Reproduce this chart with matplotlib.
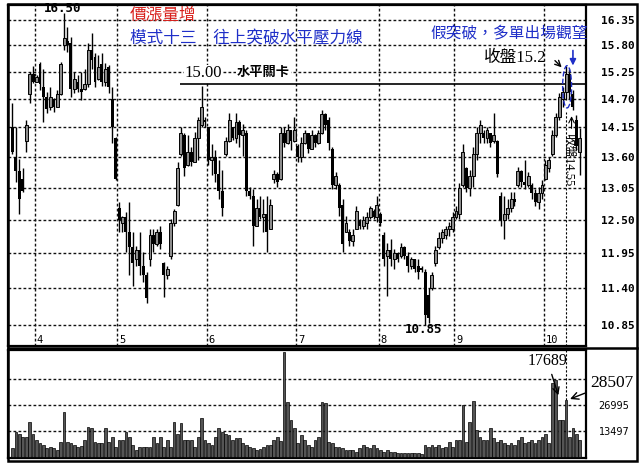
import numpy as np
import matplotlib
matplotlib.use("Agg")
import matplotlib.pyplot as plt
from matplotlib.patches import Ellipse, Rectangle
from matplotlib.ticker import NullLocator, NullFormatter

plt.rcParams['font.family'] = ['DejaVu Sans', 'Noto Sans CJK TC']

# daily bars (open, high, low, close)
opens = [14.16, 13.60, 13.35, 13.20, 13.90, 14.80, 15.20, 15.05, 15.40, 14.95,
         14.75, 14.55, 14.70, 14.55, 14.80, 15.80, 15.90, 15.85, 14.90, 15.05,
         14.90, 14.90, 15.00, 15.70, 15.55, 15.10, 15.40, 15.05, 15.35, 14.70,
         13.95, 12.70, 12.45, 12.55, 12.30, 12.05, 11.85, 12.00, 11.75, 11.60,
         11.85, 12.25, 12.10, 12.30, 11.80, 11.60, 11.90, 12.45, 12.75, 13.65,
         14.00, 13.45, 13.70, 13.50, 13.95, 14.20, 14.30, 14.15, 13.55, 13.60,
         13.30, 13.00, 13.65, 13.90, 14.15, 13.95, 14.25, 14.00, 14.05, 13.00,
         12.90, 12.40, 12.70, 12.55, 12.60, 12.35, 13.20, 13.30, 13.20, 14.05,
         13.85, 14.10, 13.90, 13.80, 13.60, 13.85, 14.05, 13.75, 14.00, 13.85,
         14.05, 14.40, 14.30, 13.75, 13.10, 13.10, 12.75, 12.30, 12.30, 12.15,
         12.35, 12.50, 12.40, 12.45, 12.55, 12.65, 12.55, 12.60, 12.25, 11.90,
         12.00, 11.85, 11.95, 11.90, 12.05, 11.90, 11.75, 11.85, 11.75, 11.72,
         11.65, 11.30, 11.40, 11.80, 12.05, 12.20, 12.25, 12.35, 12.35, 12.55,
         12.60, 13.10, 13.40, 13.05, 13.25, 13.65, 14.05, 14.05, 13.95, 14.05,
         13.90, 13.90, 12.90, 12.50, 12.60, 12.70, 12.85, 13.10, 13.35, 13.15,
         13.10, 13.10, 12.95, 12.80, 12.95, 13.20, 13.40, 13.65, 14.00, 14.35,
         14.70, 14.85, 15.20, 14.80, 14.30, 13.70]
highs = [14.62, 14.16, 13.57, 13.40, 14.29, 15.25, 15.36, 15.19, 15.46, 15.30,
         14.84, 14.94, 14.72, 14.88, 15.46, 16.50, 16.20, 15.98, 15.25, 15.19,
         15.25, 15.30, 15.85, 16.06, 15.64, 15.60, 15.64, 15.43, 15.38, 14.94,
         13.97, 12.80, 12.56, 12.63, 12.80, 12.29, 12.07, 12.29, 11.97, 11.66,
         12.34, 12.34, 12.34, 12.40, 11.81, 11.75, 12.51, 12.68, 13.50, 14.16,
         14.05, 14.01, 13.78, 14.06, 14.35, 14.96, 14.35, 14.16, 13.84, 13.73,
         13.55, 13.37, 13.97, 14.43, 14.16, 14.43, 14.29, 14.22, 14.10, 13.07,
         13.02, 12.85, 12.90, 12.85, 12.90, 12.85, 13.37, 13.32, 14.16, 14.16,
         14.22, 14.10, 14.35, 13.84, 13.97, 14.10, 14.05, 14.10, 14.02, 14.10,
         14.48, 14.43, 14.35, 13.78, 13.32, 13.14, 12.85, 12.56, 12.34, 12.34,
         12.73, 12.51, 12.56, 12.63, 12.73, 12.68, 12.90, 12.63, 12.29, 12.12,
         12.18, 12.02, 11.97, 12.12, 12.07, 11.97, 11.89, 11.86, 11.86, 11.75,
         11.70, 11.40, 11.66, 12.07, 12.29, 12.34, 12.40, 12.46, 12.63, 12.73,
         13.14, 13.84, 13.42, 13.37, 13.78, 14.16, 14.29, 14.10, 14.16, 14.05,
         14.43, 13.91, 12.97, 12.90, 12.85, 12.97, 12.97, 13.42, 13.37, 13.55,
         13.32, 13.14, 13.02, 13.07, 13.19, 13.55, 13.60, 14.10, 14.43, 14.82,
         14.94, 15.36, 15.30, 14.88, 14.39, 14.14]
lows = [13.66, 13.15, 12.59, 12.97, 13.70, 14.62, 15.03, 15.05, 14.88, 14.25,
        14.43, 14.48, 14.45, 14.54, 14.78, 15.70, 15.65, 14.74, 14.82, 14.84,
        14.68, 14.88, 14.94, 15.30, 14.94, 15.09, 14.96, 14.96, 14.82, 13.86,
        13.19, 12.29, 12.29, 11.97, 11.60, 11.44, 11.75, 11.60, 11.50, 11.17,
        11.75, 11.97, 12.07, 12.02, 11.27, 11.55, 11.86, 12.40, 12.73, 13.62,
        13.25, 13.44, 13.44, 13.50, 13.55, 14.16, 14.16, 13.46, 13.28, 13.15,
        12.85, 12.56, 13.62, 13.88, 13.91, 13.86, 13.78, 13.62, 12.90, 12.85,
        12.07, 12.40, 12.51, 12.29, 11.97, 12.34, 13.14, 13.07, 13.18, 13.78,
        13.84, 13.73, 13.88, 13.50, 13.50, 13.84, 13.68, 13.74, 13.78, 13.84,
        14.03, 14.10, 13.73, 13.02, 13.02, 12.56, 11.97, 12.29, 12.07, 12.07,
        12.34, 12.34, 12.34, 12.34, 12.51, 12.51, 12.46, 12.40, 11.75, 11.29,
        11.75, 11.70, 11.81, 11.88, 11.86, 11.66, 11.70, 11.66, 11.55, 11.66,
        10.85, 10.88, 11.38, 11.75, 12.02, 12.12, 12.18, 12.23, 12.29, 12.51,
        12.51, 13.07, 12.97, 12.90, 13.07, 13.55, 13.86, 13.86, 13.86, 13.78,
        13.86, 13.24, 12.40, 12.18, 12.51, 12.63, 12.73, 13.07, 13.07, 13.02,
        13.07, 12.85, 12.73, 12.68, 12.85, 13.19, 13.32, 13.62, 13.97, 14.29,
        14.54, 14.68, 14.70, 14.48, 13.73, 13.28]
closes = [13.70, 13.35, 12.85, 13.00, 14.20, 15.20, 15.05, 15.15, 15.00, 14.75,
          14.50, 14.75, 14.55, 14.80, 15.40, 15.95, 15.80, 14.90, 15.10, 14.90,
          14.85, 15.00, 15.70, 15.50, 15.05, 15.35, 15.05, 15.30, 14.95, 14.16,
          13.20, 12.50, 12.55, 12.30, 12.05, 11.80, 12.00, 11.75, 11.60, 11.25,
          12.25, 12.10, 12.30, 12.10, 11.60, 11.70, 12.45, 12.65, 13.40, 14.05,
          13.40, 13.70, 13.50, 13.95, 14.30, 14.55, 14.25, 13.55, 13.60, 13.30,
          13.00, 12.70, 13.90, 14.30, 13.95, 14.25, 14.00, 14.10, 13.00, 12.90,
          12.40, 12.70, 12.55, 12.60, 12.30, 12.75, 13.30, 13.15, 14.05, 13.85,
          14.10, 13.90, 14.10, 13.60, 13.85, 14.05, 13.75, 14.00, 13.85, 14.05,
          14.40, 14.20, 13.85, 13.10, 13.25, 12.70, 12.10, 12.45, 12.15, 12.25,
          12.65, 12.40, 12.50, 12.55, 12.70, 12.55, 12.75, 12.45, 11.85, 12.00,
          11.85, 11.95, 11.85, 12.05, 11.90, 11.75, 11.85, 11.70, 11.65, 11.68,
          11.00, 10.95, 11.60, 12.00, 12.20, 12.30, 12.35, 12.40, 12.55, 12.65,
          13.05, 13.70, 13.05, 13.25, 13.65, 14.05, 14.20, 13.95, 14.10, 13.85,
          14.00, 13.30, 12.50, 12.60, 12.70, 12.85, 12.80, 13.35, 13.15, 13.10,
          13.25, 12.95, 12.80, 12.95, 13.10, 13.45, 13.55, 14.00, 14.35, 14.75,
          14.85, 15.20, 14.85, 14.55, 13.80, 13.95]
volumes = [4300, 13000, 12000, 10000, 10000, 18000, 12000, 8600, 7000, 6000,
           4500, 5000, 4300, 3500, 7800, 23000, 7800, 6900, 6000, 5000,
           5500, 8600, 15500, 14700, 7800, 6900, 7000, 14700, 7800, 10400,
           5200, 8600, 8600, 13000, 10400, 6000, 3500, 5200, 5200, 5200,
           5200, 10400, 7000, 10400, 5200, 8600, 5200, 18000, 12000, 17300,
           8600, 8600, 8600, 5200, 10400, 20000, 8600, 7000, 6000, 10400,
           14700, 13000, 12000, 11200, 8600, 9500, 9500, 7000, 6000, 5200,
           4300, 3500, 4000, 5200, 6000, 6000, 8600, 10400, 8000, 54500,
           28500, 19000, 14700, 7000, 11200, 8600, 6000, 5200, 8600, 10400,
           28500, 28000, 7800, 6900, 5200, 5200, 4300, 3500, 3500, 3500,
           2600, 4300, 6000, 5200, 4300, 6000, 4300, 3500, 2600, 3500,
           2600, 2600, 1700, 1700, 1700, 1700, 1700, 1700, 1700, 1400,
           6000, 5200, 6000, 5200, 6000, 4300, 5200, 7800, 5200, 8600,
           8600, 26800, 7800, 18000, 29000, 13800, 10400, 8600, 8600, 14700,
           9500, 7800, 8600, 7000, 6000, 6900, 6000, 8600, 10400, 7000,
           7800, 8600, 7000, 8600, 10400, 12000, 7000, 38000, 39800, 19000,
           19000, 29400, 10400, 14700, 12000, 8600]

month_pos = [6.5, 30.5, 56.5, 82.5, 106.5, 128.5, 154.5]
month_labels = ['4', '5', '6', '7', '8', '9', '10']
price_ticks = [16.35, 15.80, 15.25, 14.70, 14.15, 13.60, 13.05, 12.50, 11.95, 11.40, 10.85]
vol_ticks = [13497, 26995]
vol_grid = [13497, 26995, 40492]
resistance = 15.00

W, H = 640, 465
fig = plt.figure(figsize=(6.4, 4.65), dpi=100)


def box(x0, y0, x1, y1):
    return [x0 / W, 1 - y1 / H, (x1 - x0) / W, (y1 - y0) / H]


ax = fig.add_axes(box(8, 5, 586, 346))
axv = fig.add_axes(box(8, 350, 586, 458), sharex=ax)

dash = (0, (2, 1.6))
blue = '#1f2fc8'
red = '#d8201c'
cjk = ['Liberation Serif', 'Noto Sans CJK TC']

o = np.array(opens)
h = np.array(highs)
l = np.array(lows)
c = np.array(closes)
x = np.arange(len(c))

# price panel
ax.set_yscale('log')
ax.set_ylim(10.55, 16.68)
ax.set_xlim(-1.3, 166.8)
for v in price_ticks:
    ax.axhline(v, ls=dash, lw=1.0, color='#111111', zorder=1)
for m in month_pos:
    ax.axvline(m, ls=dash, lw=1.0, color='#111111', zorder=1)

ax.vlines(x, l, h, color='black', lw=1.0, zorder=3)
up = c >= o
ax.bar(x[up], (c - o)[up], bottom=o[up], width=0.85, facecolor='#8c8c8c',
       edgecolor='black', lw=0.7, zorder=4)
ax.bar(x[~up], (o - c)[~up], bottom=c[~up], width=0.85, color='black', zorder=4)

ax.hlines(resistance, 48.8, 166.8, color='black', lw=1.2, zorder=2)

ax.set_yticks(price_ticks, labels=[f'{v:.2f}' for v in price_ticks])
ax.yaxis.set_minor_locator(NullLocator())
ax.yaxis.set_minor_formatter(NullFormatter())
ax.yaxis.tick_right()
ax.tick_params(axis='y', length=0, pad=11, labelsize=8)
for t in ax.get_yticklabels():
    t.set_family('DejaVu Sans Mono')
    t.set_fontweight('bold')
ax.tick_params(axis='x', bottom=False, labelbottom=False)

for m, lab in zip(month_pos, month_labels):
    ax.text(m + 0.6, 10.63, lab, fontsize=7.5, family='DejaVu Sans Mono',
            ha='left', va='center')

ax.text(14.5, 16.60, '16.50', fontsize=9, fontweight='bold', family='DejaVu Sans Mono',
        ha='center', va='center', clip_on=False)
ax.text(119.5, 10.78, '10.85', fontsize=9, fontweight='bold', family='DejaVu Sans Mono',
        ha='center', va='center')

ax.text(50, 15.22, '15.00', fontsize=12, family='Liberation Serif', ha='left', va='center',
        bbox=dict(facecolor='white', edgecolor='none', pad=0.5), zorder=5)
ax.text(65.3, 15.22, '水平關卡', fontsize=9.5, fontweight='bold', family=cjk,
        ha='left', va='center', bbox=dict(facecolor='white', edgecolor='none', pad=0.5), zorder=5)

ax.text(137.1, 15.54, '收盤15.2', fontsize=12, family=cjk, ha='left', va='center')
ax.annotate('', xy=(160.3, 15.30), xytext=(157.2, 15.52),
            arrowprops=dict(arrowstyle='->', color='black', lw=1))
ax.annotate('', xy=(163, 15.32), xytext=(163, 15.75),
            arrowprops=dict(arrowstyle='-|>', color=blue, lw=1.2, mutation_scale=9))
ax.add_patch(Ellipse((161.3, 14.95), width=2.6, height=0.85, fill=False,
                     edgecolor=blue, ls='--', lw=1, zorder=6))

ax.vlines(161, 10.55, 14.45, ls=dash, lw=0.8, color='black', zorder=2)
ax.text(161.6, 13.55, '收盤14.55', rotation=-90, fontsize=9, family=cjk,
        ha='center', va='center', zorder=6)
ax.annotate('', xy=(162.6, 14.42), xytext=(162.6, 14.08),
            arrowprops=dict(arrowstyle='->', color='black', lw=0.8))

# volume panel
axv.set_ylim(-700, 55400)
for v in vol_grid:
    axv.axhline(v, ls=dash, lw=1.0, color='#111111', zorder=1)
axv.bar(x, volumes, width=0.8, facecolor='#555555', edgecolor='black', lw=0.5, zorder=3)
axv.vlines(161, 29400, 55400, ls=dash, lw=0.8, color='black', zorder=2)
axv.set_yticks(vol_ticks, labels=[str(v) for v in vol_ticks])
axv.yaxis.tick_right()
axv.tick_params(axis='y', length=0, pad=9, labelsize=7)
axv.tick_params(axis='x', bottom=False, labelbottom=False)

axv.annotate('17689', xy=(159, 30500), xytext=(155.6, 49700), fontsize=11.5,
             family='Liberation Serif', ha='center', va='center',
             arrowprops=dict(arrowstyle='->', color='black', lw=1))
axv.annotate('28507', xy=(161.4, 29400), xytext=(174.3, 38500), fontsize=12.5,
             family='Liberation Serif', ha='center', va='center', annotation_clip=False,
             arrowprops=dict(arrowstyle='->', color='black', lw=1))

for a in (ax, axv):
    for s in a.spines.values():
        s.set_linewidth(1.6)

# titles
fig.text(130 / W, 1 - 16 / H, '價漲量增', color=red, fontsize=12, family=cjk,
         ha='left', va='center')
fig.text(130 / W, 1 - 39 / H, '模式十三　往上突破水平壓力線', color=blue, fontsize=12,
         family=cjk, ha='left', va='center')
fig.text(430 / W, 1 - 34 / H, '假突破，多單出場觀望', color=blue, fontsize=11.3,
         family=cjk, ha='left', va='center')

# outer frame of the chart window
fig.add_artist(Rectangle((8 / W, 1 - 461 / H), 629 / W, 457 / H, fill=False,
                         edgecolor='black', lw=1.8, transform=fig.transFigure))
fig.add_artist(plt.Line2D([8 / W, 637 / W], [1 - 348 / H, 1 - 348 / H],
                          color='black', lw=1.8, transform=fig.transFigure))

fig.savefig('out.png', dpi=100)
